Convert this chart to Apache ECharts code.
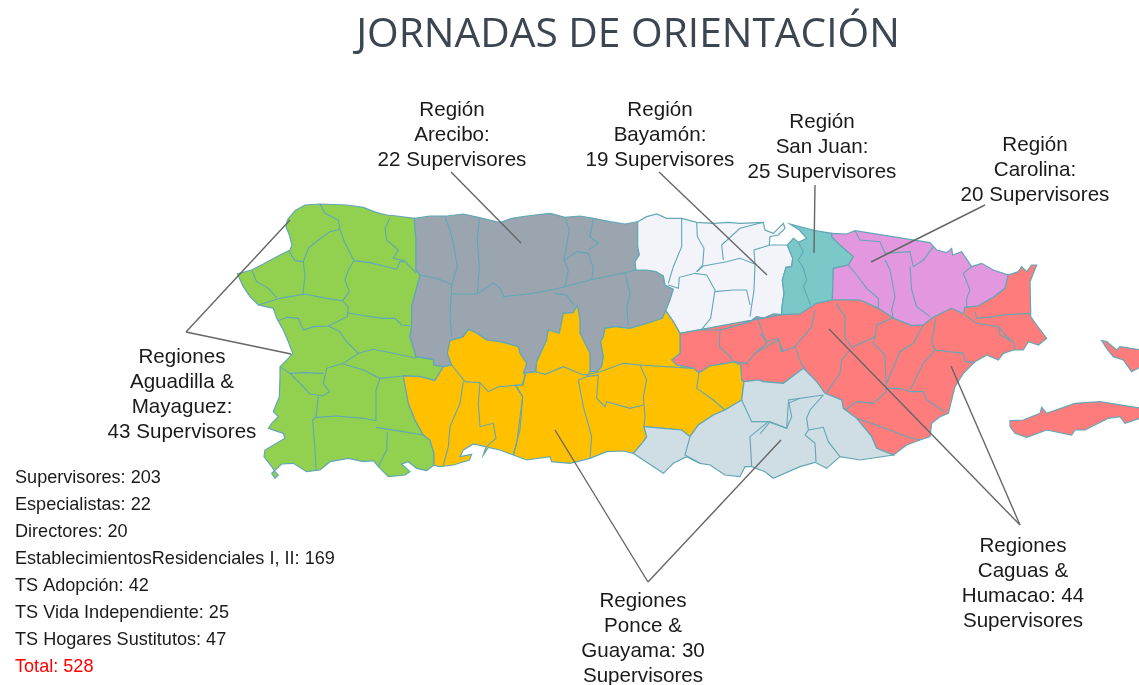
<!DOCTYPE html>
<html>
<head>
<meta charset="utf-8">
<title>Jornadas de orientación</title>
<style>
html, body { margin: 0; padding: 0; background: #fff; }
#main { width: 1139px; height: 685px; }
</style>
<script src="https://cdn.jsdelivr.net/npm/echarts@6/dist/echarts.min.js"></script>
</head>
<body>
<div id="main"></div>
<script>
// regions and what the picture says about them
var regionNames = ['Aguadilla y Mayagüez', 'Arecibo', 'Bayamón', 'San Juan', 'Carolina', 'Caguas y Humacao', 'Ponce', 'Guayama'];
var regionSupervisors = [43, 22, 19, 25, 20, 44, 30, 30];
var regionColors = ['#92d050', '#9aa5b0', '#f2f4fa', '#7bc8c8', '#e297de', '#ff7c7c', '#ffc000', '#cfdde4'];

var calloutTexts = [
	'Región\nArecibo:\n22 Supervisores',
	'Región\nBayamón:\n19 Supervisores',
	'Región\nSan Juan:\n25 Supervisores',
	'Región\nCarolina:\n20 Supervisores',
	'Regiones\nAguadilla &\nMayaguez:\n43 Supervisores',
	'Regiones\nPonce &\nGuayama: 30\nSupervisores',
	'Regiones\nCaguas &\nHumacao: 44\nSupervisores'
];
var calloutX = [452, 660, 822, 1035, 182, 643, 1023];
var calloutY = [98, 98, 110, 133, 345, 589, 534];

var staffNames = ['Supervisores', 'Especialistas', 'Directores', 'EstablecimientosResidenciales I, II', 'TS Adopción', 'TS Vida Independiente', 'TS Hogares Sustitutos', 'Total'];
var staffCounts = [203, 22, 20, 169, 42, 25, 47, 528];

// map outlines, traced on three sheets of the map at 3x. each border is kept once and shared by both sides
var sheets = { a: [230, 190], b: [500, 190], c: [760, 210] };
function pts(sheet, flat) {
	var out = [];
	for (var i = 0; i < flat.length; i += 2) {
		out.push([sheets[sheet][0] + flat[i] / 3, -(sheets[sheet][1] + flat[i + 1] / 3)]);
	}
	return out;
}
function rev(list) {
	return list.slice().reverse();
}
function chain() {
	return Array.prototype.concat.apply([], arguments);
}

var greenCoast = pts('a', [553,85, 500,78, 470,75, 440,68, 400,52, 350,45, 270,42, 225,45, 195,62, 172,90, 168,110, 178,135, 186,165, 180,180, 140,200, 100,222, 65,240, 22,252, 40,290, 60,320, 85,345, 130,355, 140,385, 160,420, 175,455, 188,490, 175,505, 150,530, 150,560, 148,620, 130,665, 145,680, 125,700, 115,715, 160,730, 165,745, 105,780, 102,800, 125,830, 135,845, 145,855, 135,865, 125,850, 155,822, 190,820, 230,845, 270,840, 300,815, 355,805, 400,815, 430,812, 445,830, 475,860, 525,855, 540,845, 515,822, 535,815, 560,835, 590,842, 612,825]);
var greenOrange = pts('a', [612,825, 612,790, 600,750, 580,735, 555,690, 535,640, 520,558, 570,560, 615,572, 640,530]);
var greenGray = pts('a', [553,85, 558,150, 558,240, 570,255, 553,320, 545,350, 545,410, 540,440, 558,500, 610,508, 612,525, 640,530]);

var grayCoast = chain(
	pts('a', [553,85, 600,78, 650,78, 700,72, 745,82]),
	pts('b', [0,98, 35,85, 80,78, 150,70, 195,82, 240,78, 280,85, 330,95, 375,102, 413,95])
);
var grayWhite = pts('b', [413,95, 413,170, 418,195, 405,215, 408,240, 440,240, 468,245, 490,258, 495,285, 520,298, 510,330, 497,362]);
var grayOrange = chain(
	pts('b', [497,362, 487,385, 440,400, 390,415, 345,410, 315,415, 310,440, 302,455, 310,500, 305,530, 290,545, 270,545, 270,490, 240,430, 240,390, 232,345, 220,368, 190,370, 178,430, 145,420, 140,450, 110,515, 108,545, 70,550, 80,520, 60,490, 55,470, 20,460, 0,455]),
	pts('a', [770,450, 740,430, 715,418, 700,440, 660,452, 652,490, 665,525, 640,530])
);

var whiteCoast = chain(
	pts('b', [413,95, 440,80, 470,72, 500,85, 545,85, 590,97, 640,100, 685,97, 720,100, 790,97, 795,120, 820,130, 850,100, 855,115, 835,135, 810,140, 808,165]),
	pts('c', [82,105])
);
var whiteTeal = pts('c', [82,105, 98,145, 95,170, 78,172, 67,210, 72,250, 66,290, 65,314]);
var whiteRed = chain(
	pts('b', [540,430, 600,420, 660,420, 700,410, 750,395, 770,380, 790,385, 820,372]),
	pts('c', [65,314])
);
var orangeWhite = pts('b', [497,362, 520,395, 540,430]);
var orangeRed = pts('b', [540,430, 540,490, 515,510, 530,525, 580,535, 597,548, 630,528, 680,520, 700,515, 722,525, 725,570, 732,575]);
var orangeBlue = pts('b', [732,575, 725,630, 675,660, 640,675, 595,705, 570,740, 545,720, 490,715, 432,710, 440,740, 430,755, 400,790]);
var orangeCoast = chain(
	pts('b', [400,790, 370,783, 320,785, 270,805, 210,820, 155,815, 150,800, 80,810, 40,795, 0,780]),
	pts('a', [775,772, 760,795, 768,770, 730,762, 700,780, 690,800, 725,793, 718,810, 670,825, 628,830, 612,825])
);

var blueRed = chain(
	pts('b', [732,575, 775,570, 790,575]),
	pts('c', [70,520, 130,475, 170,515, 195,550, 245,570, 250,595, 290,625, 335,680, 350,715, 400,735])
);
var blueCoast = chain(
	pts('c', [400,735, 300,750, 240,740, 200,775, 165,757, 120,770, 40,805]),
	pts('b', [795,845, 755,830, 735,830, 720,860, 675,855, 630,825, 600,820, 560,800, 520,820, 490,850, 430,810, 400,790])
);

var tealCoast = pts('c', [82,105, 100,85, 115,97, 140,85, 118,60, 90,42, 165,62, 215,70]);
var tealPink = pts('c', [215,70, 215,80, 240,105, 280,140, 265,165, 220,175, 217,270]);
var tealRed = pts('c', [217,270, 170,280, 120,312, 65,314]);
var pinkCoast = pts('c', [215,70, 260,72, 285,62, 510,98, 530,120, 560,128, 575,115, 578,135, 605,125, 635,170, 665,160, 700,180, 745,195]);
var pinkRed = pts('c', [217,270, 300,270, 355,295, 400,325, 455,347, 490,345, 520,322, 575,295, 610,312, 615,292, 655,288, 700,262, 735,235, 745,195]);
var redCoast = pts('c', [745,195, 775,185, 785,170, 800,185, 815,165, 830,165, 810,215, 812,300, 812,320, 830,345, 860,385, 835,405, 805,395, 790,420, 760,420, 730,430, 715,450, 680,435, 645,455, 610,490, 585,530, 575,570, 565,610, 540,620, 515,640, 510,680, 480,690, 440,705, 400,735]);
var vieques = pts('c', [750,632, 790,630, 840,610, 845,592, 860,610, 945,580, 1020,575, 1160,597, 1160,618, 1095,640, 1080,620, 1045,625, 975,660, 945,660, 935,675, 860,660, 800,682, 765,670, 750,650]);
var culebra = pts('c', [1025,392, 1040,395, 1070,420, 1080,410, 1160,422, 1160,462, 1115,485, 1090,450, 1060,440, 1040,415]);

var regionShapes = [
	[chain(greenCoast, greenOrange, rev(greenGray))],
	[chain(grayCoast, grayWhite, grayOrange, rev(greenGray))],
	[chain(whiteCoast, whiteTeal, rev(whiteRed), rev(orangeWhite), rev(grayWhite))],
	[chain(rev(whiteTeal), tealCoast, tealPink, tealRed)],
	[chain(pinkCoast, rev(pinkRed), rev(tealPink))],
	[chain(rev(whiteRed), rev(tealRed), pinkRed, redCoast, rev(blueRed), rev(orangeRed)), vieques, culebra],
	[chain(rev(grayOrange), orangeWhite, orangeRed, orangeBlue, orangeCoast, greenOrange)],
	[chain(rev(orangeBlue), blueRed, blueCoast)]
];

// town borders inside the regions
var townBorders = [
	pts('a', [270,42, 285,70, 325,90, 330,118]),
	pts('a', [330,118, 300,125, 265,150, 235,175, 220,215, 195,212, 178,185]),
	pts('a', [330,118, 345,160, 372,212, 355,240, 345,270, 358,305, 338,332]),
	pts('a', [372,212, 420,218, 470,230, 500,238, 510,215, 525,215, 558,248]),
	pts('a', [480,85, 465,115, 470,150, 505,180, 490,205, 525,212]),
	pts('a', [220,215, 225,260, 218,315]),
	pts('a', [85,345, 150,325, 225,312, 290,325, 338,332, 355,350, 352,380, 295,408, 250,410, 220,420, 205,385, 170,382, 145,392]),
	pts('a', [65,240, 80,275, 115,295, 142,325]),
	pts('a', [352,368, 420,380, 460,385, 495,385, 515,405, 545,408]),
	pts('a', [295,408, 330,425, 345,450, 385,490, 340,520, 290,535, 280,580, 298,605, 280,618, 240,612, 215,585, 180,550, 150,530]),
	pts('a', [385,490, 430,478, 490,490, 560,505]),
	pts('a', [340,522, 400,540, 450,565, 520,558]),
	pts('a', [180,550, 225,548, 280,550]),
	pts('a', [265,620, 258,680, 248,690, 255,780, 258,840]),
	pts('a', [258,682, 320,678, 400,685, 438,692, 438,600, 450,565]),
	pts('a', [438,712, 500,722, 580,735]),
	pts('a', [472,725, 470,780, 445,830]),
	pts('a', [645,80, 660,120, 670,160, 682,230, 665,285, 660,380, 665,440]),
	pts('a', [570,255, 620,265, 668,285]),
	pts('a', [748,85, 742,150, 748,230, 742,312, 665,312]),
	chain(pts('a', [742,312, 790,278]), pts('b', [0,295, 12,320, 85,312, 165,298, 270,270, 375,248, 405,240])),
	pts('b', [165,310, 200,315, 222,345]),
	pts('b', [195,82, 208,120, 192,210, 205,240, 195,290]),
	pts('b', [192,212, 230,185, 265,190, 280,235, 275,270]),
	pts('b', [280,85, 270,140, 295,160, 265,180]),
	pts('b', [375,248, 390,310, 380,350, 385,405]),
	pts('b', [545,85, 545,170, 520,230, 505,280]),
	pts('b', [590,97, 592,140, 612,175, 608,225, 590,245]),
	pts('b', [505,285, 535,295, 538,262, 585,250, 620,255, 645,300, 632,385, 605,418]),
	pts('b', [590,245, 610,228, 680,215, 720,205, 765,222, 762,300, 750,380]),
	pts('b', [645,305, 700,300, 740,300, 750,345]),
	pts('b', [670,210, 665,165, 720,115, 790,97]),
	pts('b', [765,222, 762,180, 810,165]),
	pts('a', [700,575, 690,640, 660,710, 655,770, 640,825]),
	pts('a', [665,525, 705,575, 750,578, 775,605, 805,590, 875,585, 888,552]),
	pts('a', [750,578, 745,640, 750,710, 790,700, 798,745, 770,770]),
	pts('a', [860,590, 878,620, 870,720, 850,795]),
	pts('b', [75,550, 70,585, 45,585, 68,620, 50,760, 40,795]),
	pts('b', [108,545, 135,553, 190,530, 245,553, 260,555, 300,545, 370,520, 420,525, 440,570, 430,620, 435,680, 432,710]),
	pts('b', [270,545, 260,560, 235,570, 250,650, 275,740, 270,805]),
	pts('b', [260,560, 295,555, 290,625, 315,650, 320,635, 390,655, 430,645]),
	pts('b', [420,525, 580,535]),
	pts('b', [597,548, 590,595, 640,630, 675,660]),
	pts('b', [570,740, 555,795, 600,820]),
	pts('b', [725,630, 755,695, 805,695, 860,715, 865,640, 900,625]),
	pts('b', [805,695, 750,740, 755,830]),
	pts('c', [190,555, 150,600, 140,625, 145,660, 135,675, 165,700, 168,755]),
	pts('c', [190,555, 85,570, 95,620, 80,655, 30,635, 0,672]),
	pts('c', [145,660, 190,652, 205,695, 240,740]),
	pts('c', [165,300, 155,350, 105,410, 125,465, 135,475]),
	pts('c', [0,370, 20,395, 55,385, 65,425, 105,410]),
	pts('b', [660,420, 658,470, 690,500, 700,515]),
	pts('b', [700,515, 740,520, 765,490, 800,460, 770,380]),
	pts('b', [765,490, 835,450, 850,485]),
	pts('c', [228,280, 255,320, 255,385, 280,415]),
	pts('c', [280,410, 345,380, 340,400, 375,435, 378,515, 378,545, 340,580, 290,575, 255,600]),
	pts('c', [345,380, 350,345, 395,325]),
	pts('c', [380,520, 420,425, 460,400, 490,345]),
	pts('c', [527,325, 515,400, 525,420, 490,460, 450,540]),
	pts('c', [525,420, 610,430, 615,455, 645,458]),
	pts('c', [380,535, 420,535, 450,545, 490,545, 500,570, 555,605]),
	pts('c', [290,625, 390,660, 440,680, 480,690]),
	pts('c', [270,420, 245,450, 240,490, 200,548]),
	pts('c', [615,315, 650,340, 715,350, 755,395]),
	pts('c', [715,350, 720,375, 760,395, 765,420]),
	pts('c', [645,305, 650,325, 700,320, 730,315, 810,310]),
	pts('c', [285,62, 300,90, 360,95, 375,130, 450,125, 460,170, 490,150, 520,110]),
	pts('c', [265,165, 290,195, 320,235, 355,265, 355,295]),
	pts('c', [375,150, 390,180, 405,260, 395,300, 400,325]),
	pts('c', [450,170, 455,240, 470,290, 510,320]),
	pts('c', [635,170, 610,190, 630,240, 620,265, 620,295]),
	pts('c', [115,97, 130,125, 115,150, 130,175, 140,210, 130,230, 152,285])
];

// callout leader lines, in map units
var leaderLines = [
	[[451, -172], [521, -243]],
	[[659, -172], [767, -275]],
	[[815, -185], [814, -253]],
	[[985, -205], [871, -262]],
	[[186, -332], [290, -220]],
	[[186, -332], [291, -354]],
	[[648, -582], [555, -430]],
	[[648, -582], [781, -440]],
	[[1020, -525], [829, -329]],
	[[1020, -525], [951, -366]]
];

var features = regionNames.map(function(name, i) {
	return {
		type : 'Feature',
		properties : { name : name },
		geometry : { type : 'MultiPolygon', coordinates : regionShapes[i].map(function(ring) { return [ring]; }) }
	};
});
echarts.registerMap('pr', { type : 'FeatureCollection', features : features });

var textFont = '"Liberation Sans", Arial, sans-serif';
var titles = [{
	text : 'JORNADAS DE ORIENTACIÓN',
	left : 623,
	top : 10,
	textAlign : 'center',
	textStyle : { fontFamily : '"Open Sans", sans-serif', fontWeight : 'normal', fontSize : 40.7, color : '#3b4650' }
}];
calloutTexts.forEach(function(text, i) {
	titles.push({
		text : text,
		left : calloutX[i],
		top : calloutY[i],
		padding : 0,
		textAlign : 'center',
		textStyle : { fontFamily : textFont, fontWeight : 'normal', fontSize : 20.6, lineHeight : 25, color : '#1a1a1a' }
	});
});
staffNames.forEach(function(name, i) {
	titles.push({
		text : name + ': ' + staffCounts[i],
		left : 15,
		top : 469 + i * 27,
		padding : 0,
		textStyle : { fontFamily : textFont, fontWeight : 'normal', fontSize : 18.1, color : i === staffNames.length - 1 ? '#ff0000' : '#1a1a1a' }
	});
});

var myChart = echarts.init(document.getElementById('main'));
var option = {
	animation : false,
	backgroundColor : '#fff',
	title : titles,
	geo : {
		map : 'pr',
		silent : true,
		roam : false,
		aspectScale : 1,
		boundingCoords : [ [ 0, 0 ], [ 1139, -685 ] ],
		left : 0,
		top : 0,
		width : 1139,
		height : 685,
		itemStyle : { borderColor : '#62a7b5', borderWidth : 1.2 },
		regions : regionNames.map(function(name, i) {
			return { name : name, itemStyle : { areaColor : regionColors[i] } };
		})
	},
	series : [ {
		type : 'map',
		geoIndex : 0,
		data : regionNames.map(function(name, i) {
			return { name : name, value : regionSupervisors[i] };
		})
	}, {
		type : 'lines',
		coordinateSystem : 'geo',
		polyline : true,
		silent : true,
		lineStyle : { color : '#62a7b5', width : 1.1, opacity : 1 },
		data : townBorders.map(function(line) { return { coords : line }; })
	}, {
		type : 'lines',
		coordinateSystem : 'geo',
		silent : true,
		zlevel : 1,
		lineStyle : { color : '#666666', width : 1.4, opacity : 1 },
		data : leaderLines.map(function(line) { return { coords : line }; })
	} ]
};
myChart.setOption(option);
</script>
</body>
</html>
